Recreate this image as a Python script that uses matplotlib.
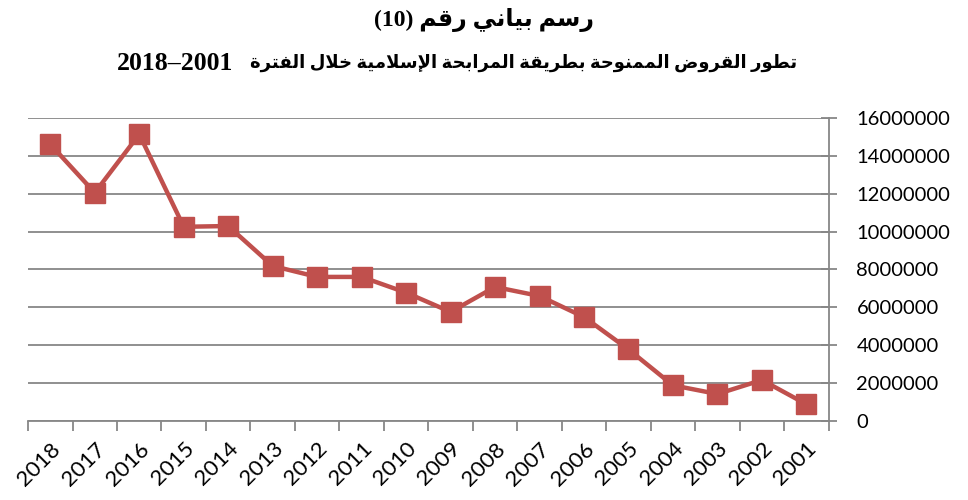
import numpy as np
import matplotlib.pyplot as plt
import matplotlib.transforms as mtransforms

# data (years run right-to-left)
years = ["2018", "2017", "2016", "2015", "2014", "2013", "2012", "2011", "2010",
         "2009", "2008", "2007", "2006", "2005", "2004", "2003", "2002", "2001"]
loans = [14610000, 12050000, 15140000, 10250000, 10290000, 8180000, 7600000, 7600000,
         6770000, 5750000, 7070000, 6590000, 5480000, 3770000, 1870000, 1410000,
         2150000, 870000]
y_ticks = [0, 2000000, 4000000, 6000000, 8000000, 10000000, 12000000, 14000000, 16000000]

title_1 = "رسم بياني رقم (10)"
title_2 = "تطور القروض الممنوحة بطريقة المرابحة الإسلامية خلال الفترة"
title_2_years = "2001–2018"

# minimal arabic shaping: (isolated, final, initial, medial)
FORMS = {
    "ا": (0xFE8D, 0xFE8E, None, None), "إ": (0xFE87, 0xFE88, None, None),
    "ب": (0xFE8F, 0xFE90, 0xFE91, 0xFE92), "ة": (0xFE93, 0xFE94, None, None),
    "ت": (0xFE95, 0xFE96, 0xFE97, 0xFE98), "ح": (0xFEA1, 0xFEA2, 0xFEA3, 0xFEA4),
    "خ": (0xFEA5, 0xFEA6, 0xFEA7, 0xFEA8), "ر": (0xFEAD, 0xFEAE, None, None),
    "س": (0xFEB1, 0xFEB2, 0xFEB3, 0xFEB4), "ض": (0xFEBD, 0xFEBE, 0xFEBF, 0xFEC0),
    "ط": (0xFEC1, 0xFEC2, 0xFEC3, 0xFEC4), "ف": (0xFED1, 0xFED2, 0xFED3, 0xFED4),
    "ق": (0xFED5, 0xFED6, 0xFED7, 0xFED8), "ل": (0xFEDD, 0xFEDE, 0xFEDF, 0xFEE0),
    "م": (0xFEE1, 0xFEE2, 0xFEE3, 0xFEE4), "ن": (0xFEE5, 0xFEE6, 0xFEE7, 0xFEE8),
    "ه": (0xFEE9, 0xFEEA, 0xFEEB, 0xFEEC), "و": (0xFEED, 0xFEEE, None, None),
    "ي": (0xFEF1, 0xFEF2, 0xFEF3, 0xFEF4),
    "\uE001": (0xFEFB, 0xFEFC, None, None),  # lam-alef
    "\uE002": (0xFEF9, 0xFEFA, None, None),  # lam-alef hamza below
}


def shape_word(w):
    w = w.replace("لا", "\uE001").replace("لإ", "\uE002")
    out = []
    for i, c in enumerate(w):
        if c not in FORMS:
            out.append(c)
            continue
        f = FORMS[c]
        prev = w[i - 1] if i > 0 else None
        nxt = w[i + 1] if i + 1 < len(w) else None
        jp = prev in FORMS and FORMS[prev][2] is not None
        jn = nxt in FORMS and f[2] is not None
        if jp and jn:
            out.append(chr(f[3]))
        elif jp:
            out.append(chr(f[1]))
        elif jn:
            out.append(chr(f[2]))
        else:
            out.append(chr(f[0]))
    return "".join(out)


def visual(text):
    words = []
    for w in text.split(" "):
        if any(ch in FORMS for ch in w.replace("لا", "\uE001").replace("لإ", "\uE002")):
            words.append(shape_word(w)[::-1])
        elif "–" in w:
            words.append("–".join(w.split("–")[::-1]))
        else:
            words.append(w)
    return " ".join(words[::-1])


fig = plt.figure(figsize=(9.68, 5.0), dpi=100)
ax = fig.add_axes([0.029, 0.1586, 0.827, 0.6054])

x = np.arange(len(years))
ax.plot(x, loans, color="#C0504D", lw=3.2, marker="s", ms=14, mec="#C0504D", mfc="#C0504D")

ax.set_xlim(-0.5, len(years) - 0.5)
ax.set_ylim(0, 16000000)
ax.yaxis.tick_right()
ax.set_yticks(y_ticks)
ax.set_yticklabels([str(v) for v in y_ticks], fontsize=14.5, family="Lato")
ax.tick_params(axis="y", direction="inout", length=12, width=1.3, color="#878787", pad=14)
for lab in ax.get_yticklabels():
    lab.set_ha("left")

ax.set_xticks(x)
ax.set_xticklabels(years, rotation=45, ha="right", rotation_mode="anchor", fontsize=16, family="Lato")
shift = mtransforms.ScaledTranslation(4 / 100, 0, fig.dpi_scale_trans)
for lab in ax.get_xticklabels():
    lab.set_transform(lab.get_transform() + shift)
ax.set_xticks(np.arange(-0.5, len(years)), minor=True)
ax.tick_params(axis="x", which="major", length=0, pad=13)
ax.tick_params(axis="x", which="minor", length=7, width=1.3, color="#878787")

ax.grid(axis="y", color="#878787", lw=1.3)
ax.set_axisbelow(True)
for s in ["top", "left"]:
    ax.spines[s].set_visible(False)
for s in ["bottom", "right"]:
    ax.spines[s].set_color("#878787")
    ax.spines[s].set_linewidth(1.3)

fam = ["Liberation Serif", "DejaVu Sans"]
fig.text(0.5, 0.96, visual(title_1), ha="center", va="center", fontsize=17, weight="bold", family=fam)
fig.text(0.8233, 0.874, visual(title_2), ha="right", va="center", fontsize=13, weight="bold", family=fam)
fig.text(0.2407, 0.874, visual(title_2_years), ha="right", va="center", fontsize=18.5, weight="bold", family=fam)

fig.savefig("out.png", dpi=100)
